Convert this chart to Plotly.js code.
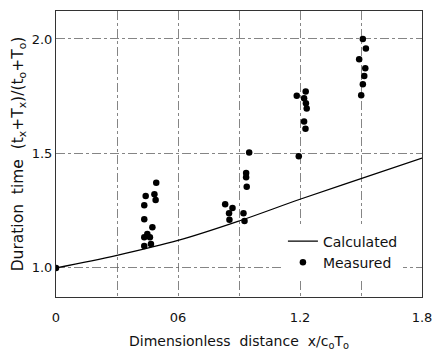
<!DOCTYPE html>
<html><head><meta charset="utf-8">
<script src="https://cdn.plot.ly/plotly-3.0.1.min.js"></script>
<style>body{margin:0;background:#fff}#c{width:438px;height:352px}</style>
</head><body><div id="c"></div>
<script>
var calcX = [0, 0.3, 0.6, 0.9, 1.2, 1.5, 1.8];
var calcY = [1.0, 1.055, 1.12, 1.205, 1.30, 1.39, 1.48];
var measX = [0,
  0.441, 0.493, 0.484, 0.490, 0.434, 0.434, 0.474, 0.449, 0.434, 0.462, 0.434, 0.467,
  0.832, 0.868, 0.851, 0.853, 0.922, 0.927, 0.950, 0.935, 0.935, 0.938,
  1.184, 1.228, 1.220, 1.229, 1.233, 1.220, 1.227, 1.194,
  1.509, 1.524, 1.491, 1.521, 1.516, 1.509, 1.501];
var measY = [1.0,
  1.314, 1.372, 1.322, 1.297, 1.274, 1.213, 1.178, 1.148, 1.134, 1.134, 1.096, 1.105,
  1.278, 1.262, 1.239, 1.210, 1.239, 1.205, 1.504, 1.414, 1.396, 1.355,
  1.752, 1.770, 1.741, 1.719, 1.696, 1.639, 1.608, 1.488,
  2.000, 1.958, 1.911, 1.872, 1.838, 1.802, 1.754];
var xTickVals = [0, 0.3, 0.6, 0.9, 1.2, 1.5, 1.8];
var xTickText = ['0', '', '06', '', '1.2', '', '1.8'];
var yTickVals = [1.0, 1.5, 2.0];
var yTickText = ['1.0', '1.5', '2.0'];

var font = 'DejaVu Sans, sans-serif';
var traces = [
  {x: calcX, y: calcY, mode: 'lines', name: 'Calculated', line: {color: '#000', width: 1.2, shape: 'spline'}},
  {x: measX, y: measY, mode: 'markers', name: 'Measured', marker: {color: '#000', size: 6.5}}
];
var layout = {
  width: 438, height: 352,
  margin: {l: 56, r: 16, t: 11, b: 55},
  paper_bgcolor: '#fff', plot_bgcolor: '#fff',
  font: {family: font, color: '#111', size: 13},
  showlegend: true,
  legend: {x: 0.62, y: 0.25, xanchor: 'left', yanchor: 'top', bgcolor: '#fff',
    font: {size: 14, family: font}, itemwidth: 30, tracegroupgap: 4},
  xaxis: {range: [0, 1.8], tickvals: xTickVals, ticktext: xTickText, ticks: '',
    showgrid: true, gridcolor: '#666', gridwidth: 0.8, griddash: 'dashdot',
    showline: true, linecolor: '#333', linewidth: 1, mirror: true, zeroline: false,
    tickfont: {size: 13}, ticklen: 0, ticklabelstandoff: 8,
    title: {text: 'Dimensionless  distance  x/c<sub>o</sub>T<sub>o</sub>', font: {size: 14}, standoff: 12}},
  yaxis: {range: [0.873, 2.122], tickvals: yTickVals, ticktext: yTickText, ticks: '',
    showgrid: true, gridcolor: '#666', gridwidth: 0.8, griddash: 'dashdot',
    showline: true, linecolor: '#333', linewidth: 1, mirror: true, zeroline: false,
    tickfont: {size: 13},
    title: {text: 'Duration  time  (t<sub>x</sub>+T<sub>x</sub>)/(t<sub>o</sub>+T<sub>o</sub>)', font: {size: 15.5}, standoff: 4}}
};
Plotly.newPlot('c', traces, layout, {displayModeBar: false, staticPlot: true});
</script></body></html>
